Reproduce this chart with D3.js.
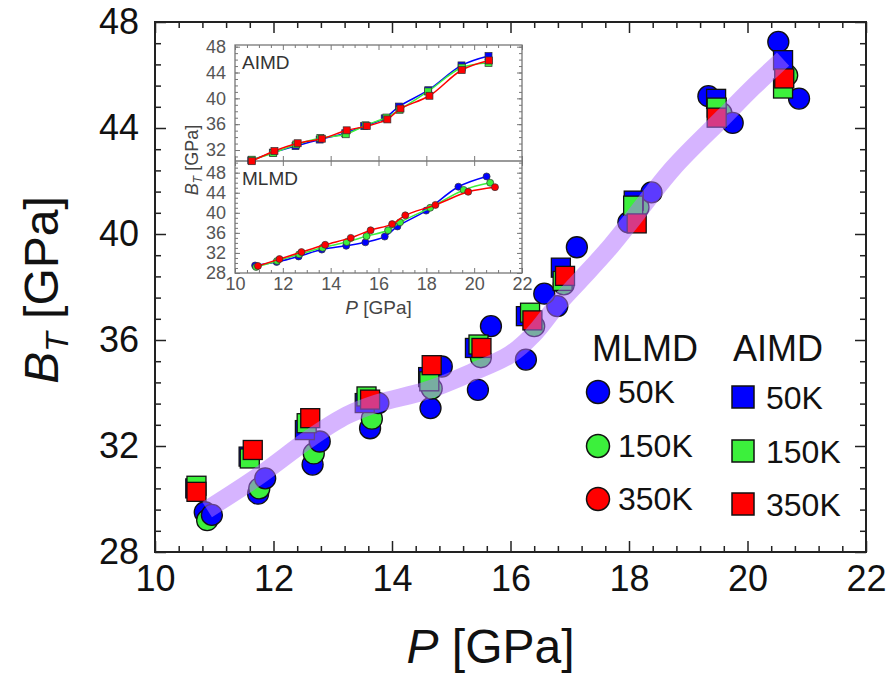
<!DOCTYPE html>
<html>
<head>
<meta charset="utf-8">
<script src="https://cdn.jsdelivr.net/npm/d3@7"></script>
<style>
  body { margin: 0; background: #fff; }
  text { font-family: "Liberation Sans", Arial, sans-serif; }
</style>
</head>
<body>
<div id="chart"></div>
<script>
// ---- data: [P (GPa), B_T (GPa)] ----
var mlmd50K = [[10.84,29.5],[11.74,30.2],[12.66,31.3],[13.63,32.67],[14.65,33.43],[15.45,34.12],[16.26,35.26],[16.79,37.28],[17.99,40.44],[19.34,45.2],[20.52,47.25]];
var mlmd150K = [[10.88,29.2],[11.76,30.4],[12.68,31.72],[13.66,33.03],[14.67,34.17],[15.5,35.35],[16.4,36.52],[16.9,38.1],[18.16,41.0],[19.56,44.56],[20.67,45.99]];
var mlmd350K = [[10.96,29.4],[11.86,30.78],[12.78,32.17],[13.77,33.62],[14.84,35.0],[15.67,36.52],[16.57,37.75],[17.12,39.5],[18.38,41.57],[19.75,44.19],[20.87,45.11]];

var aimd50K = [[10.68,30.4],[11.58,31.6],[12.53,32.6],[13.54,33.62],[14.61,34.6],[15.4,35.7],[16.26,36.9],[16.85,38.73],[18.08,41.26],[19.47,45.1],[20.6,46.56]];
var aimd150K = [[10.7,30.5],[11.6,31.53],[12.56,32.86],[13.57,33.87],[14.63,34.44],[15.46,35.83],[16.33,37.03],[16.88,38.23],[18.07,41.07],[19.48,44.77],[20.6,45.49]];
var aimd350K = [[10.7,30.27],[11.65,31.85],[12.62,33.05],[13.63,33.75],[14.67,35.05],[15.51,35.7],[16.37,36.74],[16.92,38.42],[18.13,40.4],[19.48,44.39],[20.62,45.87]];

// thick guide line through the points
var guideLine = [[10.88,29.6],[11.77,30.9],[12.62,32.3],[13.23,33.15],[13.74,33.6],[14.59,34.1],[15.37,34.8],[15.99,35.45],[16.38,36.2],[16.78,37.3],[17.17,38.25],[17.62,39.35],[18.02,40.45],[18.75,42.5],[19.59,44.4],[20.1,45.55],[20.6,46.6]];

var temps = ["50K", "150K", "350K"];
var xTicks = [10, 12, 14, 16, 18, 20, 22];
var yTicks = [28, 32, 36, 40, 44, 48];
var insetTopTicks = [32, 36, 40, 44, 48];
var insetBottomTicks = [28, 32, 36, 40, 44, 48];

var blue = "#0000ff", green = "#3cf03c", red = "#ff0000";

var mlmd = [
  {name: "50K", data: mlmd50K, color: blue, mainColor: blue},
  {name: "150K", data: mlmd150K, color: green, mainColor: green},
  {name: "350K", data: mlmd350K, color: red, mainColor: blue}
];
var aimd = [
  {name: "50K", data: aimd50K, color: blue},
  {name: "150K", data: aimd150K, color: green},
  {name: "350K", data: aimd350K, color: red}
];

var svgWidth = 895;
var svgHeight = 682;
var margin = {top: 22, right: 29, bottom: 130, left: 155};
var chartWidth = svgWidth - margin.left - margin.right;
var chartHeight = svgHeight - margin.top - margin.bottom;

var svg = d3.select("#chart")
  .append("svg")
  .attr("width", svgWidth)
  .attr("height", svgHeight);

var chartGroup = svg.append("g")
  .attr("transform", `translate(${margin.left}, ${margin.top})`);

var xScale = d3.scaleLinear().domain([10, 22]).range([0, chartWidth]);
var yScale = d3.scaleLinear().domain([28, 48]).range([chartHeight, 0]);

var xMinor = d3.range(0, 31).filter(i => i % 5).map(i => 10 + i * 0.4);
var yMinor = d3.range(0, 26).filter(i => i % 5).map(i => 28 + i * 0.8);

function tickAxis(g, axis) {
  g.call(axis);
  g.select(".domain").remove();
  g.selectAll("line").attr("stroke", "#222").attr("stroke-width", 1.5);
  return g;
}

// major + minor ticks on all four sides, pointing inward
tickAxis(chartGroup.append("g").attr("transform", `translate(0, ${chartHeight})`),
  d3.axisBottom(xScale).tickValues(xTicks).tickSize(-11).tickPadding(12).tickFormat(d3.format("d")))
  .selectAll("text").attr("font-size", 36).attr("fill", "#111").attr("dy", "0.75em");
tickAxis(chartGroup.append("g").attr("transform", `translate(0, ${chartHeight})`),
  d3.axisBottom(xScale).tickValues(xMinor).tickSize(-6).tickFormat(""));
tickAxis(chartGroup.append("g"),
  d3.axisTop(xScale).tickValues(xTicks).tickSize(-11).tickFormat(""));
tickAxis(chartGroup.append("g"),
  d3.axisTop(xScale).tickValues(xMinor).tickSize(-6).tickFormat(""));

tickAxis(chartGroup.append("g"),
  d3.axisLeft(yScale).tickValues(yTicks).tickSize(-11).tickPadding(16).tickFormat(d3.format("d")))
  .selectAll("text").attr("font-size", 36).attr("fill", "#111");
tickAxis(chartGroup.append("g"),
  d3.axisLeft(yScale).tickValues(yMinor).tickSize(-6).tickFormat(""));
tickAxis(chartGroup.append("g").attr("transform", `translate(${chartWidth}, 0)`),
  d3.axisRight(yScale).tickValues(yTicks).tickSize(-11).tickFormat(""));
tickAxis(chartGroup.append("g").attr("transform", `translate(${chartWidth}, 0)`),
  d3.axisRight(yScale).tickValues(yMinor).tickSize(-6).tickFormat(""));

chartGroup.append("rect")
  .attr("width", chartWidth)
  .attr("height", chartHeight)
  .attr("fill", "none")
  .attr("stroke", "#222")
  .attr("stroke-width", 2);

// axis titles
var yTitle = svg.append("text")
  .attr("transform", "translate(58, 290) rotate(-90)")
  .attr("text-anchor", "middle")
  .attr("font-size", 48)
  .attr("fill", "#111");
yTitle.append("tspan").attr("font-style", "italic").text("B");
yTitle.append("tspan").attr("font-style", "italic").attr("font-size", 32).attr("dy", 10).text("T");
yTitle.append("tspan").attr("dy", -10).text(" [GPa]");

var xTitle = svg.append("text")
  .attr("x", margin.left + chartWidth / 2 - 20)
  .attr("y", 663)
  .attr("text-anchor", "middle")
  .attr("font-size", 48)
  .attr("fill", "#111");
xTitle.append("tspan").attr("font-style", "italic").text("P");
xTitle.append("tspan").text(" [GPa]");

// main markers: circles (MLMD) then squares (AIMD)
var r = 10.5, sq = 19;
mlmd.forEach(function(s) {
  chartGroup.selectAll(null)
    .data(s.data)
    .enter()
    .append("circle")
    .attr("cx", d => xScale(d[0]))
    .attr("cy", d => yScale(d[1]))
    .attr("r", r)
    .attr("fill", s.mainColor)
    .attr("stroke", "#111")
    .attr("stroke-width", 1.3);
});
aimd.forEach(function(s) {
  chartGroup.selectAll(null)
    .data(s.data)
    .enter()
    .append("rect")
    .attr("x", d => xScale(d[0]) - sq / 2)
    .attr("y", d => yScale(d[1]) - sq / 2)
    .attr("width", sq)
    .attr("height", sq)
    .attr("fill", s.color)
    .attr("stroke", "#111")
    .attr("stroke-width", 1.3);
});

chartGroup.append("path")
  .datum(guideLine)
  .attr("d", d3.line().x(d => xScale(d[0])).y(d => yScale(d[1])).curve(d3.curveCatmullRom))
  .attr("fill", "none")
  .attr("stroke", "#b070ff")
  .attr("stroke-opacity", 0.52)
  .attr("stroke-width", 18);

// legend
var legend = svg.append("g");
legend.append("text").attr("x", 592).attr("y", 361).attr("font-size", 36).attr("fill", "#111").text("MLMD");
legend.append("text").attr("x", 733).attr("y", 361).attr("font-size", 36).attr("fill", "#111").text("AIMD");
var legendRows = [392, 446, 499];
mlmd.forEach(function(s, i) {
  legend.append("circle").attr("cx", 598).attr("cy", legendRows[i]).attr("r", 11.5)
    .attr("fill", s.color).attr("stroke", "#111").attr("stroke-width", 1.5);
  legend.append("text").attr("x", 618).attr("y", legendRows[i] + 11).attr("font-size", 32)
    .attr("fill", "#111").text(temps[i]);
});
aimd.forEach(function(s, i) {
  legend.append("rect").attr("x", 732).attr("y", legendRows[i] + 5 - 11).attr("width", 22).attr("height", 22)
    .attr("fill", s.color).attr("stroke", "#111").attr("stroke-width", 1.5);
  legend.append("text").attr("x", 766).attr("y", legendRows[i] + 17).attr("font-size", 32)
    .attr("fill", "#111").text(temps[i]);
});

// ---- inset ----
var inset = svg.append("g").attr("transform", "translate(235, 45)");
var insetW = 287, topH = 116, botH = 112;
var ix = d3.scaleLinear().domain([10, 22]).range([0, insetW]);
var iyTop = d3.scaleLinear().domain([30.3, 48.26]).range([topH, 0]);
var iyBot = d3.scaleLinear().domain([28, 50.33]).range([topH + botH, topH]);

inset.append("rect").attr("width", insetW).attr("height", topH + botH).attr("fill", "#fff");

var ixMinor = d3.range(0, 25).filter(i => i % 4).map(i => 10 + i * 0.5);
function insetTicks(g, axis) {
  g.call(axis);
  g.select(".domain").remove();
  g.selectAll("line").attr("stroke", "#777").attr("stroke-width", 1);
  g.selectAll("text").attr("font-size", 18).attr("fill", "#555");
  return g;
}
insetTicks(inset.append("g").attr("transform", `translate(0, ${topH + botH})`),
  d3.axisBottom(ix).tickValues(xTicks).tickSize(-5).tickPadding(4).tickFormat(d3.format("d")));
insetTicks(inset.append("g").attr("transform", `translate(0, ${topH + botH})`),
  d3.axisBottom(ix).tickValues(ixMinor).tickSize(-3).tickFormat(""));
insetTicks(inset.append("g"), d3.axisTop(ix).tickValues(xTicks).tickSize(-5).tickFormat(""));
insetTicks(inset.append("g"), d3.axisTop(ix).tickValues(ixMinor).tickSize(-3).tickFormat(""));
insetTicks(inset.append("g").attr("transform", `translate(0, ${topH})`), d3.axisTop(ix).tickValues(xTicks).tickSize(-5).tickFormat(""));
insetTicks(inset.append("g").attr("transform", `translate(0, ${topH})`), d3.axisBottom(ix).tickValues(xTicks).tickSize(-5).tickFormat(""));

[[iyTop, insetTopTicks, d3.range(31, 49)], [iyBot, insetBottomTicks, d3.range(28, 51)]].forEach(function(p) {
  insetTicks(inset.append("g"), d3.axisLeft(p[0]).tickValues(p[1]).tickSize(-5).tickPadding(9).tickFormat(d3.format("d")));
  insetTicks(inset.append("g"), d3.axisLeft(p[0]).tickValues(p[2]).tickSize(-3).tickFormat(""));
  insetTicks(inset.append("g").attr("transform", `translate(${insetW}, 0)`), d3.axisRight(p[0]).tickValues(p[1]).tickSize(-5).tickFormat(""));
  insetTicks(inset.append("g").attr("transform", `translate(${insetW}, 0)`), d3.axisRight(p[0]).tickValues(p[2]).tickSize(-3).tickFormat(""));
});

inset.append("rect").attr("width", insetW).attr("height", topH + botH)
  .attr("fill", "none").attr("stroke", "#777").attr("stroke-width", 1.3);
inset.append("line").attr("x1", 0).attr("x2", insetW).attr("y1", topH).attr("y2", topH)
  .attr("stroke", "#777").attr("stroke-width", 1.3);

function insetSeries(series, yS, shape) {
  series.forEach(function(s) {
    inset.append("path")
      .datum(s.data)
      .attr("d", d3.line().x(d => ix(d[0])).y(d => yS(d[1])).curve(d3.curveCatmullRom))
      .attr("fill", "none")
      .attr("stroke", s.color)
      .attr("stroke-width", 1.5);
    var m = inset.selectAll(null).data(s.data).enter();
    if (shape === "circle") {
      m.append("circle").attr("cx", d => ix(d[0])).attr("cy", d => yS(d[1])).attr("r", 3.5)
        .attr("fill", s.color).attr("stroke", "#333").attr("stroke-width", 0.7);
    } else {
      m.append("rect").attr("x", d => ix(d[0]) - 3.5).attr("y", d => yS(d[1]) - 3.5)
        .attr("width", 7).attr("height", 7)
        .attr("fill", s.color).attr("stroke", "#333").attr("stroke-width", 0.7);
    }
  });
}
insetSeries(aimd, iyTop, "square");
insetSeries(mlmd, iyBot, "circle");

inset.append("text").attr("x", 7).attr("y", 24).attr("font-size", 19).attr("fill", "#333").text("AIMD");
inset.append("text").attr("x", 7).attr("y", topH + 24).attr("font-size", 19).attr("fill", "#333").text("MLMD");

var iyTitle = svg.append("text")
  .attr("transform", "translate(198, 160) rotate(-90)")
  .attr("text-anchor", "middle")
  .attr("font-size", 18)
  .attr("fill", "#444");
iyTitle.append("tspan").attr("font-style", "italic").text("B");
iyTitle.append("tspan").attr("font-style", "italic").attr("font-size", 12).attr("dy", 4).text("T");
iyTitle.append("tspan").attr("dy", -4).text(" [GPa]");

var ixTitle = svg.append("text")
  .attr("x", 235 + insetW / 2)
  .attr("y", 314)
  .attr("text-anchor", "middle")
  .attr("font-size", 19)
  .attr("fill", "#444");
ixTitle.append("tspan").attr("font-style", "italic").text("P");
ixTitle.append("tspan").text(" [GPa]");
</script>
</body>
</html>
